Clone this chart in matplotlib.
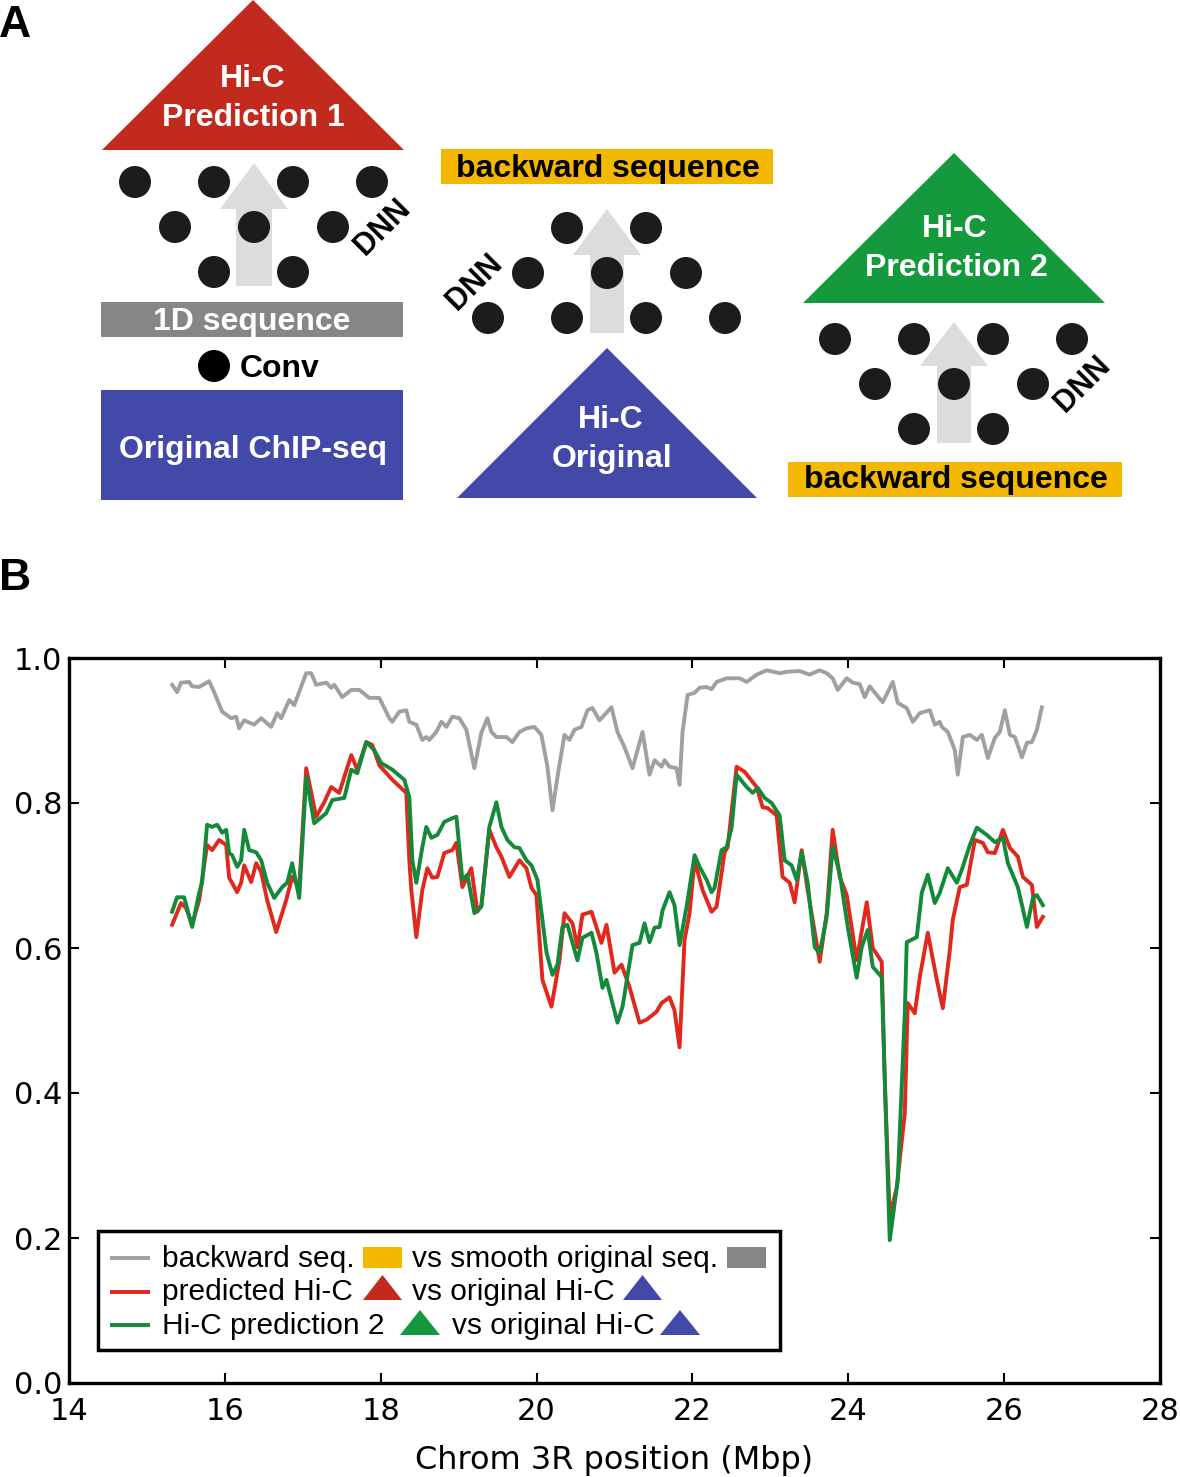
import matplotlib
matplotlib.use('Agg')
import matplotlib.pyplot as plt
from matplotlib.patches import Polygon, Rectangle, Circle

# ---------------- data (Chrom 3R position in Mbp, correlation) ----------------
gray_x = [15.323, 15.387, 15.438, 15.541, 15.580, 15.670, 15.798, 15.862, 15.965, 16.081,
          16.145, 16.183, 16.248, 16.376, 16.466, 16.594, 16.672, 16.723, 16.826, 16.890,
          17.044, 17.108, 17.172, 17.301, 17.365, 17.404, 17.506, 17.622, 17.725, 17.853,
          17.982, 18.110, 18.149, 18.239, 18.328, 18.367, 18.457, 18.534, 18.585, 18.624,
          18.714, 18.778, 18.842, 18.919, 19.009, 19.099, 19.202, 19.292, 19.369, 19.420,
          19.484, 19.613, 19.690, 19.780, 19.870, 19.972, 20.062, 20.139, 20.204, 20.268,
          20.358, 20.422, 20.486, 20.576, 20.653, 20.717, 20.807, 20.961, 21.038, 21.128,
          21.231, 21.360, 21.449, 21.514, 21.604, 21.642, 21.706, 21.796, 21.835, 21.873,
          21.938, 22.028, 22.092, 22.182, 22.246, 22.310, 22.439, 22.606, 22.696, 22.824,
          22.952, 23.119, 23.209, 23.376, 23.504, 23.543, 23.633, 23.723, 23.800, 23.864,
          23.980, 24.057, 24.147, 24.211, 24.275, 24.442, 24.571, 24.635, 24.750, 24.828,
          24.918, 25.046, 25.110, 25.174, 25.200, 25.277, 25.367, 25.405, 25.470, 25.560,
          25.650, 25.714, 25.791, 25.881, 25.945, 26.009, 26.074, 26.138, 26.228, 26.292,
          26.356, 26.420, 26.484]
gray_y = [0.963, 0.953, 0.966, 0.967, 0.961, 0.960, 0.968, 0.953, 0.926, 0.917,
          0.919, 0.903, 0.914, 0.908, 0.917, 0.905, 0.924, 0.917, 0.942, 0.935,
          0.979, 0.979, 0.963, 0.966, 0.959, 0.963, 0.946, 0.956, 0.956, 0.945,
          0.945, 0.917, 0.912, 0.926, 0.928, 0.912, 0.908, 0.887, 0.891, 0.887,
          0.898, 0.912, 0.905, 0.919, 0.917, 0.901, 0.848, 0.897, 0.917, 0.898,
          0.891, 0.891, 0.884, 0.898, 0.903, 0.905, 0.894, 0.850, 0.790, 0.836,
          0.894, 0.887, 0.901, 0.905, 0.928, 0.931, 0.914, 0.932, 0.898, 0.877,
          0.848, 0.898, 0.839, 0.859, 0.850, 0.859, 0.850, 0.848, 0.825, 0.898,
          0.949, 0.952, 0.959, 0.960, 0.957, 0.967, 0.972, 0.972, 0.967, 0.977,
          0.983, 0.979, 0.981, 0.982, 0.977, 0.979, 0.983, 0.979, 0.972, 0.956,
          0.972, 0.966, 0.964, 0.946, 0.961, 0.939, 0.967, 0.938, 0.931, 0.912,
          0.924, 0.928, 0.908, 0.912, 0.905, 0.898, 0.873, 0.839, 0.891, 0.894,
          0.887, 0.894, 0.862, 0.890, 0.898, 0.928, 0.894, 0.891, 0.863, 0.883,
          0.884, 0.901, 0.932]

red_x = [15.323, 15.438, 15.503, 15.580, 15.670, 15.772, 15.837, 15.927, 16.017, 16.055,
         16.158, 16.209, 16.248, 16.338, 16.402, 16.466, 16.543, 16.659, 16.787, 16.864,
         16.954, 17.044, 17.172, 17.275, 17.365, 17.468, 17.622, 17.699, 17.815, 17.892,
         17.982, 18.149, 18.328, 18.367, 18.393, 18.457, 18.534, 18.598, 18.662, 18.727,
         18.816, 18.919, 18.971, 19.048, 19.163, 19.240, 19.292, 19.394, 19.484, 19.549,
         19.651, 19.780, 19.870, 19.934, 19.998, 20.075, 20.191, 20.294, 20.358, 20.461,
         20.525, 20.589, 20.705, 20.833, 20.897, 21.000, 21.090, 21.193, 21.321, 21.411,
         21.539, 21.604, 21.706, 21.770, 21.835, 21.899, 21.963, 22.028, 22.130, 22.246,
         22.310, 22.413, 22.452, 22.567, 22.670, 22.824, 22.901, 22.965, 23.080, 23.157,
         23.248, 23.312, 23.402, 23.479, 23.633, 23.723, 23.800, 23.890, 23.980, 24.108,
         24.237, 24.314, 24.429, 24.468, 24.532, 24.622, 24.725, 24.763, 24.853, 24.918,
         25.020, 25.136, 25.213, 25.303, 25.341, 25.431, 25.521, 25.624, 25.727, 25.791,
         25.881, 25.984, 26.074, 26.176, 26.241, 26.356, 26.420, 26.497]
red_y = [0.632, 0.662, 0.655, 0.632, 0.666, 0.742, 0.735, 0.749, 0.742, 0.697,
         0.677, 0.690, 0.714, 0.691, 0.717, 0.705, 0.666, 0.622, 0.666, 0.698,
         0.683, 0.848, 0.781, 0.801, 0.822, 0.814, 0.866, 0.846, 0.884, 0.880,
         0.852, 0.832, 0.814, 0.721, 0.680, 0.615, 0.680, 0.710, 0.697, 0.698,
         0.731, 0.735, 0.745, 0.684, 0.710, 0.650, 0.659, 0.763, 0.739, 0.726,
         0.698, 0.721, 0.710, 0.683, 0.673, 0.556, 0.519, 0.583, 0.648, 0.634,
         0.601, 0.646, 0.650, 0.607, 0.632, 0.566, 0.577, 0.546, 0.497, 0.501,
         0.512, 0.524, 0.532, 0.514, 0.463, 0.611, 0.648, 0.721, 0.680, 0.650,
         0.657, 0.732, 0.739, 0.850, 0.843, 0.822, 0.794, 0.793, 0.783, 0.698,
         0.690, 0.663, 0.735, 0.680, 0.581, 0.648, 0.763, 0.698, 0.673, 0.583,
         0.663, 0.600, 0.581, 0.418, 0.229, 0.270, 0.372, 0.524, 0.510, 0.560,
         0.621, 0.556, 0.517, 0.597, 0.639, 0.684, 0.687, 0.749, 0.745, 0.732,
         0.731, 0.763, 0.738, 0.726, 0.698, 0.687, 0.629, 0.643]

green_x = [15.323, 15.387, 15.477, 15.580, 15.670, 15.708, 15.772, 15.837, 15.901, 15.965,
           16.017, 16.055, 16.094, 16.158, 16.209, 16.248, 16.312, 16.402, 16.466, 16.543,
           16.633, 16.736, 16.800, 16.864, 16.954, 17.044, 17.147, 17.301, 17.378, 17.532,
           17.622, 17.699, 17.815, 17.917, 18.007, 18.149, 18.303, 18.367, 18.406, 18.457,
           18.534, 18.585, 18.650, 18.727, 18.816, 18.919, 18.971, 19.048, 19.112, 19.202,
           19.292, 19.394, 19.484, 19.549, 19.626, 19.716, 19.780, 19.870, 19.934, 20.011,
           20.127, 20.204, 20.268, 20.332, 20.396, 20.525, 20.589, 20.705, 20.769, 20.846,
           20.897, 21.038, 21.103, 21.231, 21.321, 21.385, 21.449, 21.514, 21.578, 21.617,
           21.706, 21.770, 21.835, 21.925, 22.028, 22.092, 22.182, 22.246, 22.284, 22.374,
           22.439, 22.503, 22.567, 22.696, 22.773, 22.837, 22.926, 23.016, 23.119, 23.183,
           23.273, 23.338, 23.402, 23.479, 23.569, 23.633, 23.723, 23.800, 23.890, 23.993,
           24.108, 24.172, 24.249, 24.314, 24.429, 24.468, 24.532, 24.635, 24.725, 24.750,
           24.879, 24.943, 25.020, 25.110, 25.174, 25.277, 25.393, 25.457, 25.560, 25.650,
           25.778, 25.881, 25.984, 26.048, 26.176, 26.292, 26.369, 26.420, 26.497]
green_y = [0.650, 0.670, 0.670, 0.629, 0.676, 0.690, 0.770, 0.767, 0.770, 0.759,
           0.763, 0.731, 0.728, 0.712, 0.721, 0.763, 0.735, 0.732, 0.721, 0.690,
           0.669, 0.684, 0.690, 0.717, 0.669, 0.836, 0.772, 0.786, 0.804, 0.807,
           0.846, 0.841, 0.884, 0.873, 0.855, 0.846, 0.832, 0.808, 0.721, 0.690,
           0.739, 0.767, 0.752, 0.756, 0.774, 0.779, 0.781, 0.694, 0.701, 0.648,
           0.657, 0.767, 0.801, 0.767, 0.749, 0.739, 0.738, 0.721, 0.714, 0.694,
           0.594, 0.563, 0.577, 0.629, 0.632, 0.583, 0.614, 0.621, 0.593, 0.545,
           0.556, 0.497, 0.519, 0.604, 0.607, 0.634, 0.608, 0.628, 0.629, 0.652,
           0.677, 0.659, 0.604, 0.657, 0.728, 0.712, 0.694, 0.677, 0.683, 0.735,
           0.739, 0.766, 0.839, 0.822, 0.814, 0.821, 0.807, 0.800, 0.783, 0.721,
           0.714, 0.694, 0.732, 0.690, 0.601, 0.593, 0.643, 0.739, 0.703, 0.629,
           0.559, 0.601, 0.625, 0.574, 0.560, 0.418, 0.197, 0.280, 0.510, 0.608,
           0.615, 0.676, 0.701, 0.662, 0.676, 0.710, 0.690, 0.708, 0.742, 0.766,
           0.756, 0.746, 0.752, 0.717, 0.684, 0.629, 0.669, 0.673, 0.659]

x_ticks = [14, 16, 18, 20, 22, 24, 26, 28]
y_ticks = [0.0, 0.2, 0.4, 0.6, 0.8, 1.0]
x_label = "Chrom 3R position (Mbp)"
legend_rows = [("backward seq.", "vs smooth original seq."),
               ("predicted Hi-C", "vs original Hi-C"),
               ("Hi-C prediction 2", "vs original Hi-C")]

# ---------------- colours ----------------
C_GRAYLINE = '#a0a0a0'
C_RED = '#e0281c'
C_GREEN = '#138a3a'
C_TRI_RED = '#c12a1c'
C_TRI_GREEN = '#149a3c'
C_BLUE = '#4349a8'
C_YELLOW = '#f5b800'
C_GRAYBOX = '#878585'
C_ARROW = '#dcdcdf'
C_DOT = '#1c1c1c'

W, H = 1180, 1477
fig = plt.figure(figsize=(W / 100, H / 100), dpi=100)

# ---------------- panel B ----------------
ax = fig.add_axes([69 / W, 1 - 1383 / H, (1160 - 69) / W, (1383 - 658) / H])
ax.plot(gray_x, gray_y, color=C_GRAYLINE, lw=2.8, zorder=2)
ax.plot(red_x, red_y, color=C_RED, lw=2.8, zorder=3)
ax.plot(green_x, green_y, color=C_GREEN, lw=2.8, zorder=4)
ax.set_xlim(14, 28)
ax.set_ylim(0, 1.0)
ax.set_xticks(x_ticks)
ax.set_yticks(y_ticks)
ax.set_xticklabels([str(t) for t in x_ticks])
ax.set_yticklabels(["%.1f" % t for t in y_ticks])
ax.tick_params(direction='in', length=7.5, width=1.5, top=True, right=True, labelsize=22)
ax.tick_params(axis='x', pad=10)
ax.tick_params(axis='y', pad=5)
for s in ax.spines.values():
    s.set_linewidth(2.4)
ax.set_xlabel(x_label, fontsize=23, labelpad=14)

# ---------------- overlay in pixel coordinates (panel A, legend, labels) ----------------
ov = fig.add_axes([0, 0, 1, 1], zorder=10)
ov.set_xlim(0, W)
ov.set_ylim(H, 0)
ov.axis('off')
ov.patch.set_alpha(0)

BOLD = dict(family=['Liberation Sans', 'DejaVu Sans'], weight='bold')
REG = dict(family=['Liberation Sans', 'DejaVu Sans'])

ov.text(-1, 37, "A", fontsize=32, va='baseline', ha='left', **BOLD)
ov.text(-1, 590, "B", fontsize=32, va='baseline', ha='left', **BOLD)


def tri(cx, apex_y, base_y, half, color, z=2):
    ov.add_patch(Polygon([(cx, apex_y), (cx - half, base_y), (cx + half, base_y)],
                         closed=True, facecolor=color, edgecolor='none', zorder=z))


def arrow(cx, tip_y, head_y, bottom_y, head_half, shaft_half):
    pts = [(cx - shaft_half, bottom_y), (cx - shaft_half, head_y), (cx - head_half, head_y),
           (cx, tip_y), (cx + head_half, head_y), (cx + shaft_half, head_y),
           (cx + shaft_half, bottom_y)]
    ov.add_patch(Polygon(pts, closed=True, facecolor=C_ARROW, edgecolor='none', zorder=2))


def dots(rows):
    for y, xs in rows:
        for x in xs:
            ov.add_patch(Circle((x, y), 16, facecolor=C_DOT, edgecolor='none', zorder=3))


# left block
tri(253, 0, 150, 151, C_TRI_RED)
ov.text(253, 87, "Hi-C", color='white', fontsize=23, ha='center', va='baseline', **BOLD)
ov.text(253, 126, "Prediction 1", color='white', fontsize=23, ha='center', va='baseline', **BOLD)
arrow(254, 163, 209, 286, 34, 18)
dots([(182, [135, 214, 293, 372]), (227, [175, 254, 333]), (272, [214, 293])])
ov.text(383, 227, "DNN", fontsize=22, rotation=45, rotation_mode='anchor',
        ha='center', va='center', **BOLD)
ov.add_patch(Rectangle((101, 302), 302, 35, facecolor=C_GRAYBOX, edgecolor='none'))
ov.text(252, 330, "1D sequence", color='white', fontsize=23, ha='center', va='baseline', **BOLD)
ov.add_patch(Circle((214, 366), 16, facecolor='black', edgecolor='none'))
ov.text(240, 377, "Conv", fontsize=23, ha='left', va='baseline', **BOLD)
ov.add_patch(Rectangle((101, 390), 302, 110, facecolor=C_BLUE, edgecolor='none'))
ov.text(253, 458, "Original ChIP-seq", color='white', fontsize=23, ha='center', va='baseline', **BOLD)

# middle block
ov.add_patch(Rectangle((441, 149), 332, 35, facecolor=C_YELLOW, edgecolor='none'))
ov.text(608, 177, "backward sequence", fontsize=23, ha='center', va='baseline', **BOLD)
arrow(607, 209, 255, 333, 34, 17)
dots([(228, [567, 646]), (273, [528, 607, 686]), (318, [488, 567, 646, 725])])
ov.text(475, 282, "DNN", fontsize=22, rotation=45, rotation_mode='anchor',
        ha='center', va='center', **BOLD)
tri(607, 348, 498, 150, C_BLUE)
ov.text(611, 428, "Hi-C", color='white', fontsize=23, ha='center', va='baseline', **BOLD)
ov.text(612, 467, "Original", color='white', fontsize=23, ha='center', va='baseline', **BOLD)

# right block
tri(954, 153, 303, 151, C_TRI_GREEN)
ov.text(955, 237, "Hi-C", color='white', fontsize=23, ha='center', va='baseline', **BOLD)
ov.text(956, 276, "Prediction 2", color='white', fontsize=23, ha='center', va='baseline', **BOLD)
arrow(954, 322, 366, 443, 34, 17)
dots([(339, [835, 914, 993, 1072]), (384, [875, 954, 1033]), (429, [914, 993])])
ov.text(1083, 384, "DNN", fontsize=22, rotation=45, rotation_mode='anchor',
        ha='center', va='center', **BOLD)
ov.add_patch(Rectangle((788, 462), 334, 35, facecolor=C_YELLOW, edgecolor='none'))
ov.text(956, 488, "backward sequence", fontsize=23, ha='center', va='baseline', **BOLD)

# ---------------- legend (custom, drawn inside panel B) ----------------
ov.add_patch(Rectangle((98, 1231), 682, 119, facecolor='white', edgecolor='black',
                       lw=2.5, zorder=5))
line_cols = [C_GRAYLINE, C_RED, C_GREEN]
row_line_y = [1258, 1292, 1325]
row_base_y = [1267, 1300, 1334]
for (lab1, lab2), lc, ly, by in zip(legend_rows, line_cols, row_line_y, row_base_y):
    ov.plot([110, 150], [ly, ly], color=lc, lw=2.8, zorder=6, solid_capstyle='butt')
    ov.text(162, by, lab1, fontsize=21.5, ha='left', va='baseline', zorder=6, **REG)

# row 1 symbols and second text
ov.add_patch(Rectangle((363, 1247), 39, 21, facecolor=C_YELLOW, edgecolor='none', zorder=6))
ov.text(412, row_base_y[0], legend_rows[0][1], fontsize=21.5, ha='left', va='baseline', zorder=6, **REG)
ov.add_patch(Rectangle((727, 1247), 39, 21, facecolor=C_GRAYBOX, edgecolor='none', zorder=6))
# row 2
tri(382.5, 1275, 1300, 19.5, C_TRI_RED, z=6)
ov.text(412, row_base_y[1], legend_rows[1][1], fontsize=21.5, ha='left', va='baseline', zorder=6, **REG)
tri(642.5, 1275, 1300, 19.5, C_BLUE, z=6)
# row 3
tri(420, 1310, 1335, 20, C_TRI_GREEN, z=6)
ov.text(452, row_base_y[2], legend_rows[2][1], fontsize=21.5, ha='left', va='baseline', zorder=6, **REG)
tri(680, 1310, 1335, 20, C_BLUE, z=6)

fig.savefig("out.png", dpi=100)
